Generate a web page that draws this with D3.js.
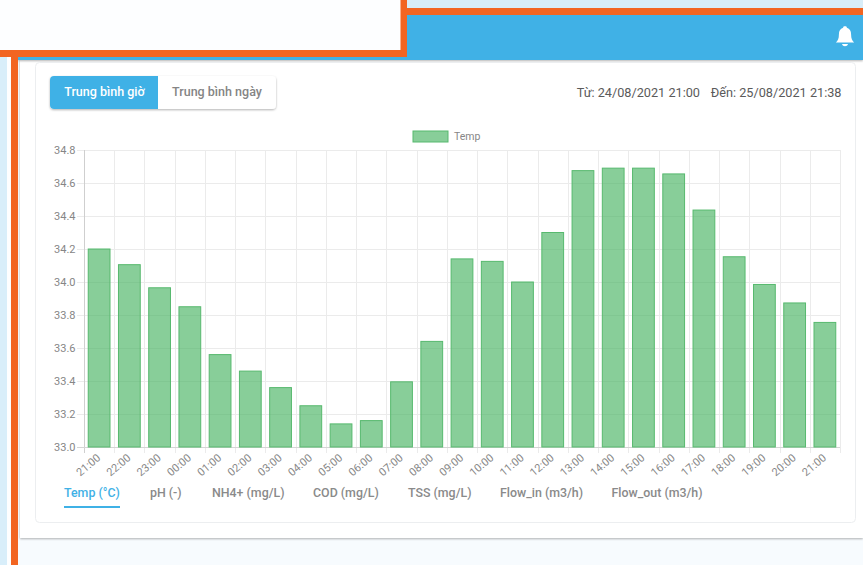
<!DOCTYPE html>
<html><head><meta charset="utf-8">
<script src="https://cdn.jsdelivr.net/npm/d3@7"></script>
<style>html,body{margin:0;padding:0;background:#f7fbfe;overflow:hidden}svg{display:block}text{font-family:Roboto,sans-serif}</style>
</head><body><svg id="c" width="863" height="565"></svg>
<script>
const hours=["21:00","22:00","23:00","00:00","01:00","02:00","03:00","04:00","05:00","06:00","07:00","08:00","09:00","10:00","11:00","12:00","13:00","14:00","15:00","16:00","17:00","18:00","19:00","20:00","21:00"];
const temp=[34.2,34.105,33.965,33.85,33.56,33.46,33.36,33.25,33.14,33.16,33.395,33.64,34.14,34.125,34.0,34.3,34.675,34.69,34.69,34.655,34.436,34.153,33.985,33.873,33.755];
const yTicks=[33.0,33.2,33.4,33.6,33.8,34.0,34.2,34.4,34.6,34.8];
const tabs=["Temp (°C)","pH (-)","NH4+ (mg/L)","COD (mg/L)","TSS (mg/L)","Flow_in (m3/h)","Flow_out (m3/h)"];
const tabX=[64,150,212,313,408,500,611.5];
const svg=d3.select("#c");
const R=(x,y,w,h,f,o={})=>{const r=svg.append("rect").attr("x",x).attr("y",y).attr("width",w).attr("height",h).attr("fill",f);for(const k in o)r.attr(k,o[k]);return r};
const T=(x,y,s,size,f,o={})=>{const t=svg.append("text").attr("x",x).attr("y",y).attr("font-size",size).attr("fill",f).text(s);for(const k in o)t.attr(k,o[k]);return t};
const defs=svg.append("defs");
const sh=defs.append("filter").attr("id","sh").attr("x","-5%").attr("y","-5%").attr("width","110%").attr("height","115%");
sh.append("feDropShadow").attr("dx",0).attr("dy",1).attr("stdDeviation",1).attr("flood-color","#000").attr("flood-opacity",.3);
// page frame
R(0,0,863,565,"#f7fbfe");
R(407,0,456,9,"#d8edf8");
R(0,57,7,508,"#d8eefa");
R(7,57,5,508,"#fdfeff");
R(20,60,843,478,"#fff",{filter:"url(#sh)"});
R(18,15,845,45,"#3fb1e6",{filter:"url(#sh)"});
R(0,0,401,51,"#fdfeff");
R(407,8,456,7,"#f26522");
// bell
svg.append("path").attr("d","M845 26c-1.2 0-1.8 .8-1.9 1.8c-3 1-4.2 3.4-4.2 6.6c0 4-1 6.2-3 8h18.2c-2-1.8-3-4-3-8c0-3.2-1.2-5.6-4.2-6.6c-.1-1-.7-1.8-1.9-1.8zM842 44c.4 1.5 1.6 2.2 3 2.2s2.6-.7 3-2.2z").attr("fill","#fff");
// inner card
R(35.5,62.5,820,460,"#fff",{rx:4,stroke:"#eceef0"});
// toggle
R(50,76,226,33,"#fff",{rx:4,filter:"url(#sh)"});
svg.append("path").attr("d","M158 76H54a4 4 0 0 0-4 4v25a4 4 0 0 0 4 4h104z").attr("fill","#3fb1e6");
T(104.5,96,"Trung bình giờ",12.5,"#fff",{"text-anchor":"middle","font-weight":500});
T(217,96,"Trung bình ngày",12.5,"#858585",{"text-anchor":"middle","font-weight":500});
T(700,97,"Từ: 24/08/2021 21:00",12.7,"#5a5a5a",{"text-anchor":"end"});
T(841.5,97,"Đến: 25/08/2021 21:38",12.7,"#5a5a5a",{"text-anchor":"end"});
// chart
const x=d3.scaleBand().domain(d3.range(hours.length)).range([84,840]).paddingInner(.28).paddingOuter(.14);
const xg=d3.scaleLinear().domain([0,hours.length]).range([84,840]);
const y=d3.scaleLinear().domain([33,34.8]).range([447,150]);
const g=svg.append("g");
g.selectAll(".gy").data(yTicks).join("line").attr("x1",77).attr("x2",840).attr("y1",d=>Math.round(y(d))+.5).attr("y2",d=>Math.round(y(d))+.5).attr("stroke","#ebebeb");
g.selectAll(".gx").data(d3.range(hours.length+1)).join("line").attr("x1",d=>Math.round(xg(d))+.5).attr("x2",d=>Math.round(xg(d))+.5).attr("y1",150).attr("y2",453).attr("stroke","#ebebeb");
g.append("line").attr("x1",84.5).attr("x2",84.5).attr("y1",150).attr("y2",453).attr("stroke","#cfcfcf");
g.append("line").attr("x1",77).attr("x2",840).attr("y1",447.5).attr("y2",447.5).attr("stroke","#d5d5d5");
g.selectAll(".bar").data(temp).join("rect").attr("x",(d,i)=>x(i)).attr("width",x.bandwidth()).attr("y",d=>y(d)).attr("height",d=>447-y(d)).attr("fill","rgba(75,181,100,.66)").attr("stroke","#57b96e").attr("stroke-width",1);
g.selectAll(".yl").data(yTicks).join("text").attr("x",75.5).attr("y",d=>y(d)+4).attr("text-anchor","end").attr("font-size",11).attr("fill","#868686").text(d=>d.toFixed(1));
g.selectAll(".xl").data(hours).join("text").attr("transform",(d,i)=>`translate(${x(i)+x.bandwidth()/2-3},${453}) rotate(-40)`).attr("text-anchor","end").attr("dominant-baseline","hanging").attr("font-size",11).attr("fill","#868686").text(d=>d);
// legend
R(413,131,35,11,"rgba(75,181,100,.66)",{stroke:"#57b96e"});
T(454,140,"Temp",10.5,"#868686");
// tabs
tabs.forEach((t,i)=>T(tabX[i],497,t,12.4,i==0?"#3fb1e6":"#8a8a8a",{"font-weight":500}));
R(64,506,56,2,"#3fb1e6");
// orange annotation
R(0,50,407,7,"#f26522");
R(400.5,0,6.5,57,"#f26522");
R(11,57,7,508,"#f26522");
</script></body></html>
